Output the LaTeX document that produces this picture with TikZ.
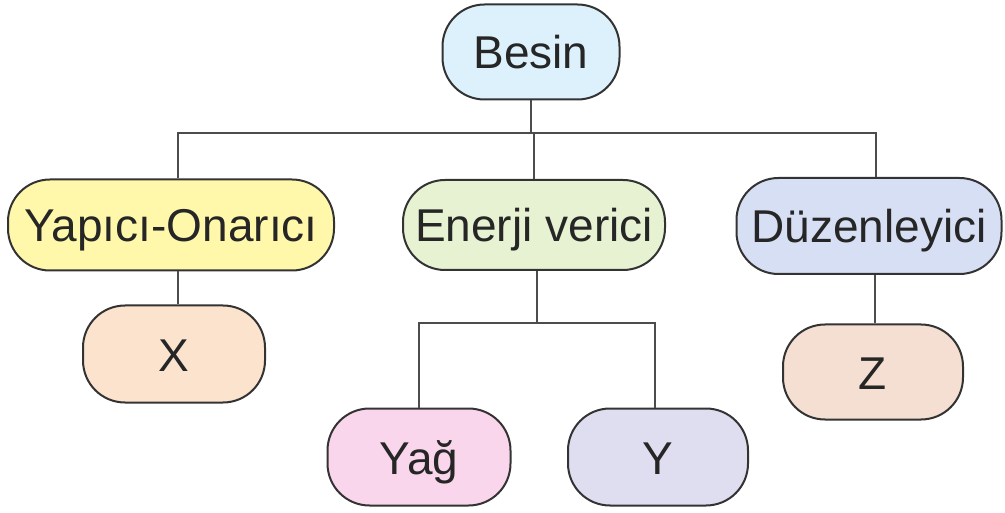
\documentclass[tikz,border=0pt]{standalone}
\usepackage{fontspec}
\setmainfont{Liberation Sans}
\begin{document}
\begin{tikzpicture}[x=1pt,y=-1pt,
  box/.style={draw=black!80, line width=2pt, rounded corners=42pt, inner sep=0pt,
    font=\fontsize{46}{50}\selectfont, text height=40pt, text depth=6pt, text=black!85},
  conn/.style={draw=black!70, line width=2.4pt}]
\useasboundingbox (0,0) rectangle (1005,513);
\definecolor{cBesin}{HTML}{DCF1FB}
\definecolor{cYap}{HTML}{FFF8AB}
\definecolor{cX}{HTML}{FCE3CE}
\definecolor{cEn}{HTML}{E6F2D2}
\definecolor{cYag}{HTML}{FAD6EC}
\definecolor{cY}{HTML}{DFDDF0}
\definecolor{cDuz}{HTML}{D6DFF4}
\definecolor{cZ}{HTML}{F4DFD2}
\node[box, fill=cBesin, minimum width=177pt, minimum height=95pt] (besin) at (531,52) {Besin};
\node[box, fill=cYap, minimum width=326pt, minimum height=91pt] (yap) at (171,225) {Yapıcı-Onarıcı};
\node[box, fill=cEn, minimum width=262pt, minimum height=90pt] (ener) at (534,225) {Enerji verici};
\node[box, fill=cDuz, minimum width=265pt, minimum height=96pt] (duz) at (869,226) {Düzenleyici};
\node[box, fill=cX, minimum width=182pt, minimum height=97pt] (x) at (174,354) {X};
\node[box, fill=cYag, minimum width=183pt, minimum height=97pt] (yag) at (419,457) {Yağ};
\node[box, fill=cY, minimum width=180pt, minimum height=97pt] (y) at (658,457) {Y};
\node[box, fill=cZ, minimum width=180pt, minimum height=95pt] (z) at (873,372) {Z};
\coordinate (j1) at (531,133);
\coordinate (j2) at (537,323);
\draw[conn] (besin.south) -- (j1);
\draw[conn] ([xshift=7pt]yap.north) |- (j1) -| ([xshift=7pt]duz.north);
\draw[conn] (j1) -| (ener.north);
\draw[conn] ([xshift=7pt]yap.south) -- ([xshift=4pt]x.north);
\draw[conn] ([xshift=3pt]ener.south) -- (j2);
\draw[conn] (yag.north) |- (j2) -| ([xshift=-3pt]y.north);
\draw[conn] ([xshift=6pt]duz.south) -- ([xshift=2pt]z.north);
\end{tikzpicture}
\end{document}
